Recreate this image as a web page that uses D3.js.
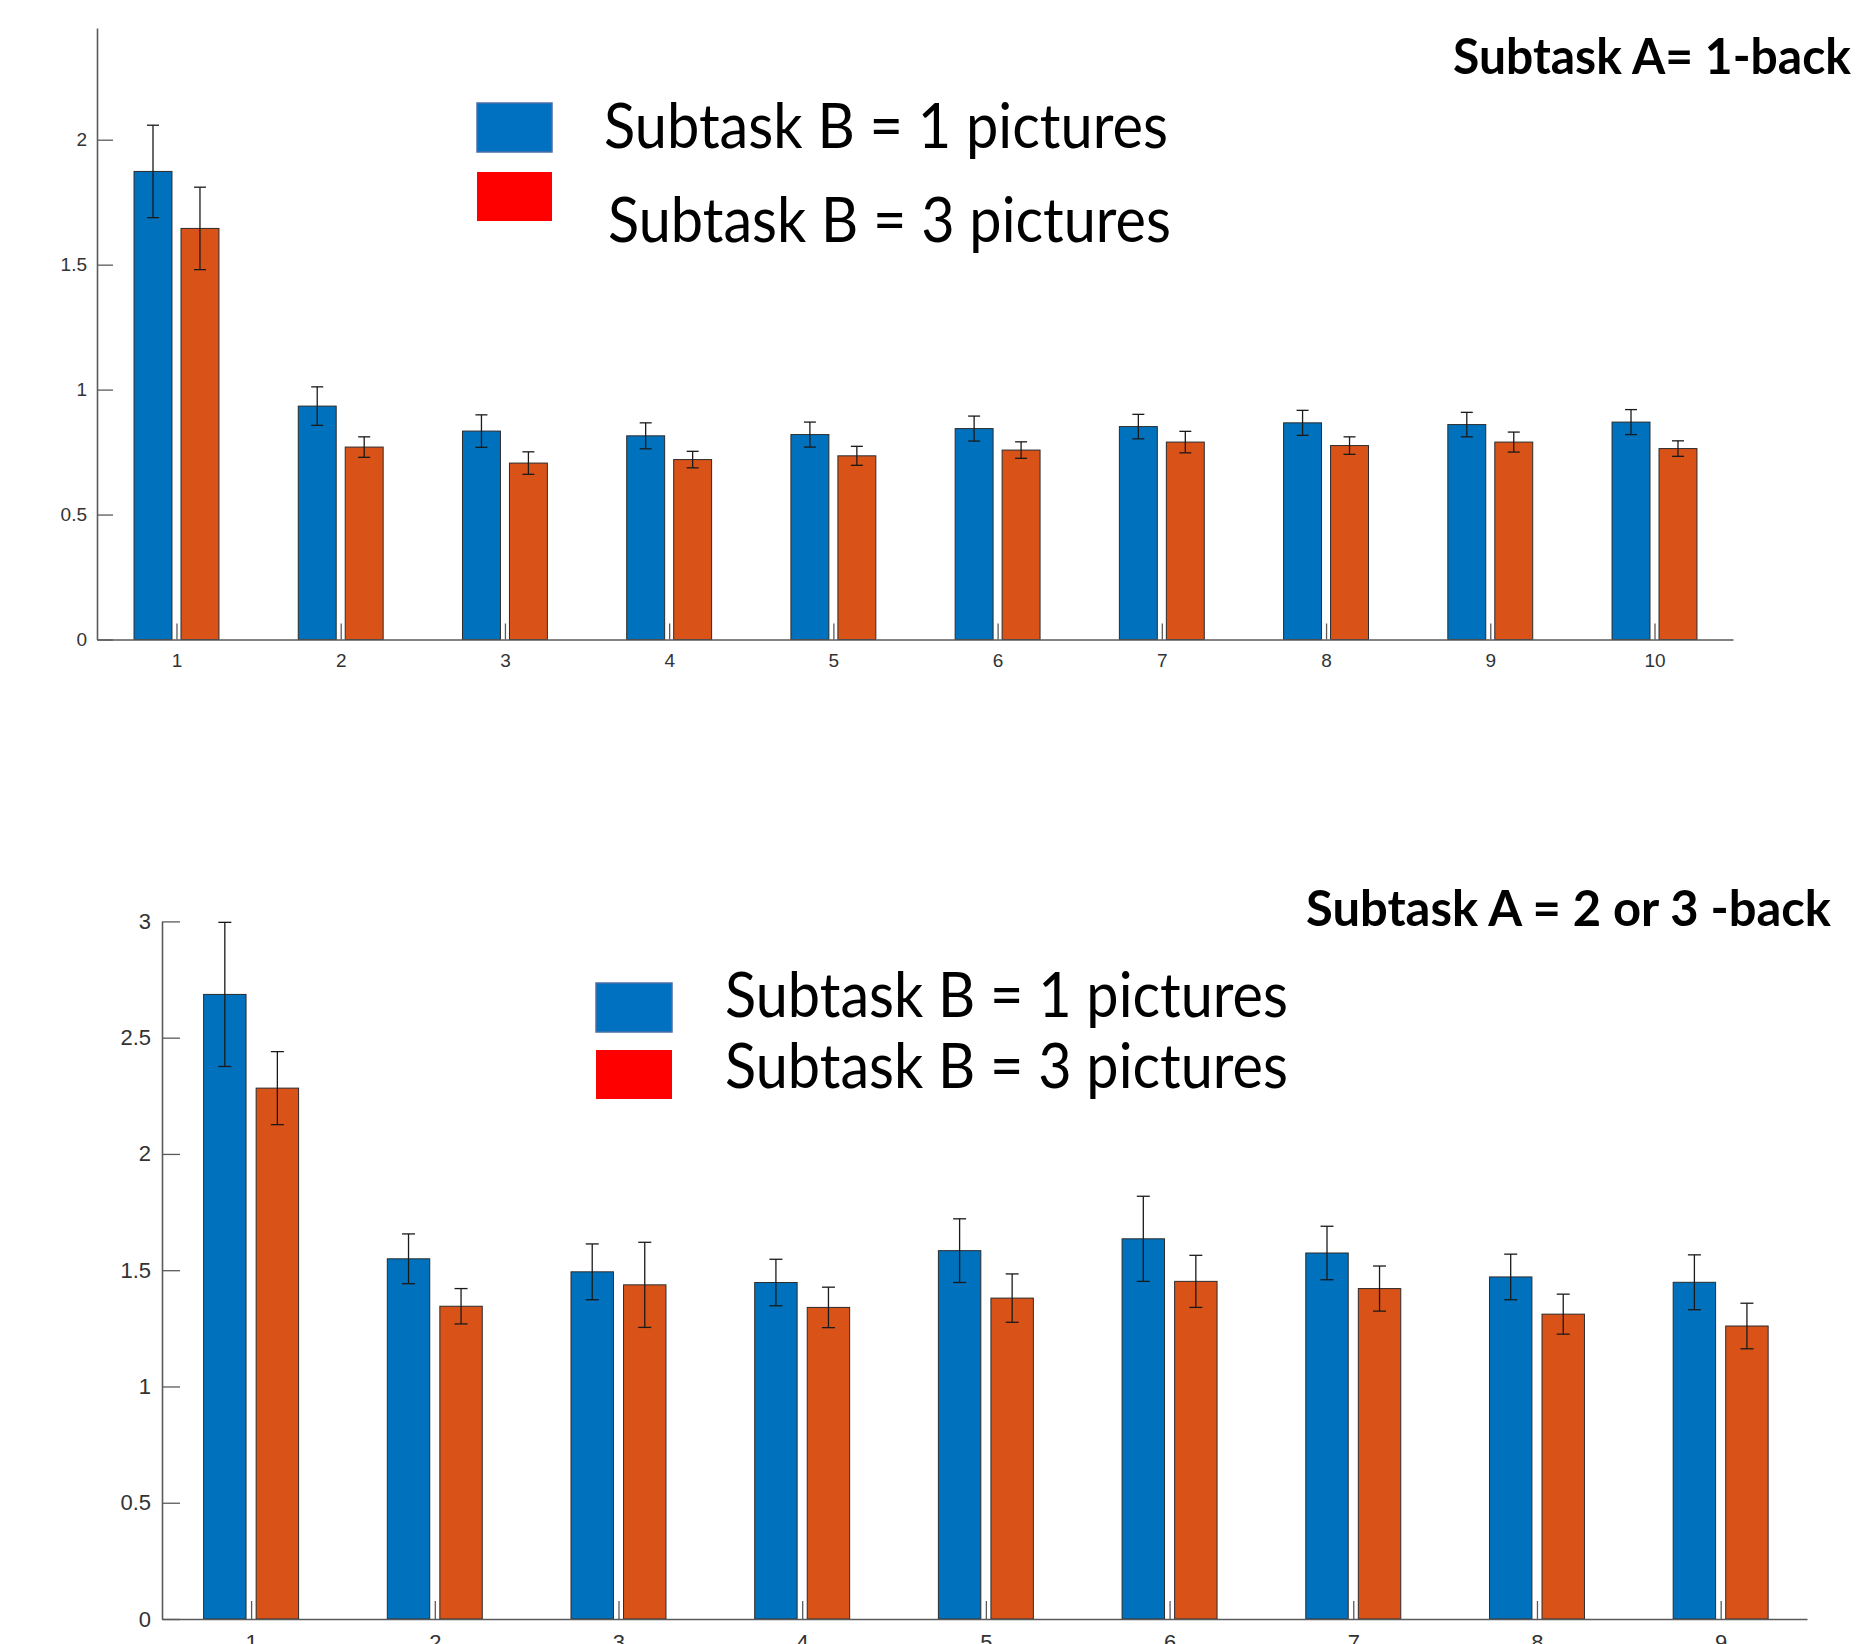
<!DOCTYPE html>
<html>
<head>
<meta charset="utf-8">
<script src="https://cdn.jsdelivr.net/npm/d3@7"></script>
<style>
  html, body { margin: 0; padding: 0; background: #fff; }
  svg { display: block; }
</style>
</head>
<body>
<svg id="fig" width="1857" height="1644"></svg>
<script>
// ---- data: upper panel (Subtask A = 1-back) ----
const topCategories = [1, 2, 3, 4, 5, 6, 7, 8, 9, 10];
const topBlue    = [1.873, 0.934, 0.834, 0.815, 0.820, 0.844, 0.852, 0.867, 0.860, 0.870];
const topBlueErr = [0.185, 0.077, 0.065, 0.052, 0.050, 0.050, 0.049, 0.050, 0.049, 0.050];
const topRed     = [1.645, 0.770, 0.706, 0.720, 0.735, 0.758, 0.790, 0.776, 0.790, 0.764];
const topRedErr  = [0.165, 0.041, 0.045, 0.033, 0.038, 0.033, 0.043, 0.035, 0.040, 0.031];
const topYTicks  = [0, 0.5, 1, 1.5, 2];

// ---- data: lower panel (Subtask A = 2 or 3 -back) ----
const bottomCategories = [1, 2, 3, 4, 5, 6, 7, 8, 9];
const bottomBlue    = [2.686, 1.549, 1.493, 1.447, 1.584, 1.635, 1.574, 1.471, 1.448];
const bottomBlueErr = [0.310, 0.107, 0.120, 0.100, 0.137, 0.183, 0.115, 0.098, 0.118];
const bottomRed     = [2.283, 1.345, 1.437, 1.340, 1.380, 1.452, 1.421, 1.311, 1.260];
const bottomRedErr  = [0.157, 0.076, 0.183, 0.087, 0.104, 0.112, 0.097, 0.086, 0.098];
const bottomYTicks  = [0, 0.5, 1, 1.5, 2, 2.5, 3];

// ---- legend / titles ----
const legendLabels = ["Subtask B = 1 pictures", "Subtask B = 3 pictures"];
const topTitle = "Subtask A= 1-back";
const bottomTitle = "Subtask A = 2 or 3 -back";

const BLUE = "#0072BD", ORANGE = "#D95319";
const svg = d3.select("#fig");

function drawPanel(cfg) {
  const x = d3.scaleLinear().domain(cfg.xDomain).range([cfg.left, cfg.right]);
  const y = d3.scaleLinear().domain(cfg.yDomain).range([cfg.bottom, cfg.top]);
  const g = svg.append("g");
  const off = 0.143, bw = 0.231;
  const barW = x(bw) - x(0);
  const series = [
    { vals: cfg.blue, errs: cfg.blueErr, color: BLUE, dx: -off },
    { vals: cfg.red, errs: cfg.redErr, color: ORANGE, dx: off }
  ];

  // axes (MATLAB style: inward ticks, no outer ticks)
  const yAxis = d3.axisLeft(y).tickValues(cfg.yTicks).tickSizeInner(-cfg.tick).tickSizeOuter(0)
    .tickPadding(cfg.pad).tickFormat(d3.format("~g"));
  const xAxis = d3.axisBottom(x).tickValues(cfg.cats).tickSizeInner(-cfg.tick).tickSizeOuter(0)
    .tickPadding(cfg.xpad).tickFormat(d3.format("d"));

  series.forEach(s => {
    const sg = g.append("g");
    sg.selectAll("rect").data(cfg.cats).join("rect")
      .attr("x", (c) => x(c + s.dx) - barW / 2)
      .attr("y", (c, i) => y(s.vals[i]))
      .attr("width", barW)
      .attr("height", (c, i) => y(0) - y(s.vals[i]))
      .attr("fill", s.color)
      .attr("stroke", "#2b2b2b")
      .attr("stroke-width", 1);
  });

  const gy = g.append("g").attr("transform", `translate(${cfg.left},0)`).call(yAxis);
  const gx = g.append("g").attr("transform", `translate(0,${cfg.bottom})`).call(xAxis);
  [gx, gy].forEach(a => {
    a.select(".domain").attr("stroke", "#5a5a5a").attr("stroke-width", 1.6);
    a.selectAll(".tick line").attr("stroke", "#5a5a5a").attr("stroke-width", 1.3);
    a.selectAll(".tick text").attr("fill", "#333")
      .style("font-family", "'Liberation Sans', Arial, sans-serif")
      .style("font-size", cfg.fs + "px");
  });

  // error bars
  const cap = cfg.cap;
  series.forEach(s => {
    const eg = g.append("g").attr("stroke", "#1a1a1a").attr("stroke-width", 1.3).attr("fill", "none");
    cfg.cats.forEach((c, i) => {
      const cx = x(c + s.dx);
      const y1 = y(s.vals[i] + s.errs[i]), y0 = y(s.vals[i] - s.errs[i]);
      eg.append("line").attr("x1", cx).attr("x2", cx).attr("y1", y1).attr("y2", y0);
      eg.append("line").attr("x1", cx - cap / 2).attr("x2", cx + cap / 2).attr("y1", y1).attr("y2", y1);
      eg.append("line").attr("x1", cx - cap / 2).attr("x2", cx + cap / 2).attr("y1", y0).attr("y2", y0);
    });
  });

  // legend
  const L = cfg.legend;
  const lg = svg.append("g");
  const swatchColors = ["#0070C0", "#FF0000"];
  L.rows.forEach((r, i) => {
    lg.append("rect").attr("x", L.sx).attr("y", r.sy).attr("width", L.sw).attr("height", L.sh)
      .attr("fill", swatchColors[i])
      .attr("stroke", i === 0 ? "#4a6fa8" : "none").attr("stroke-width", 1.5);
    lg.append("text").attr("x", r.tx).attr("y", r.base)
      .attr("textLength", r.tw).attr("lengthAdjust", "spacingAndGlyphs")
      .style("font-family", "Lato, 'Open Sans', sans-serif")
      .style("font-size", L.fs + "px").attr("fill", "#000")
      .text(legendLabels[i]);
  });

  // panel title
  svg.append("text").attr("x", cfg.title.x).attr("y", cfg.title.base)
    .attr("textLength", cfg.title.w).attr("lengthAdjust", "spacingAndGlyphs")
    .style("font-family", "Lato, 'Open Sans', sans-serif").style("font-weight", "bold")
    .style("font-size", cfg.title.fs + "px").attr("fill", "#000")
    .text(cfg.title.text);
}

drawPanel({
  cats: topCategories, blue: topBlue, blueErr: topBlueErr, red: topRed, redErr: topRedErr,
  yTicks: topYTicks, xDomain: [0.516, 10.478], yDomain: [0, 2.447],
  left: 97, right: 1733, top: 28, bottom: 639.5,
  tick: 16, pad: 10, xpad: 14, fs: 19, cap: 12,
  legend: { sx: 477, sw: 75, sh: 49, fs: 61,
    rows: [ { sy: 103, tx: 604, tw: 564, base: 148 },
            { sy: 172, tx: 608, tw: 563, base: 242 } ] },
  title: { text: topTitle, x: 1453, base: 74, w: 398, fs: 49 }
});

drawPanel({
  cats: bottomCategories, blue: bottomBlue, blueErr: bottomBlueErr, red: bottomRed, redErr: bottomRedErr,
  yTicks: bottomYTicks, xDomain: [0.515, 9.47], yDomain: [0, 3],
  left: 162, right: 1807, top: 921.4, bottom: 1619,
  tick: 18, pad: 11, xpad: 15, fs: 22, cap: 13,
  legend: { sx: 596, sw: 76, sh: 49, fs: 61,
    rows: [ { sy: 983, tx: 725, tw: 563, base: 1017 },
            { sy: 1050, tx: 725, tw: 563, base: 1088 } ] },
  title: { text: bottomTitle, x: 1306, base: 926, w: 525, fs: 49 }
});
</script>
</body>
</html>
